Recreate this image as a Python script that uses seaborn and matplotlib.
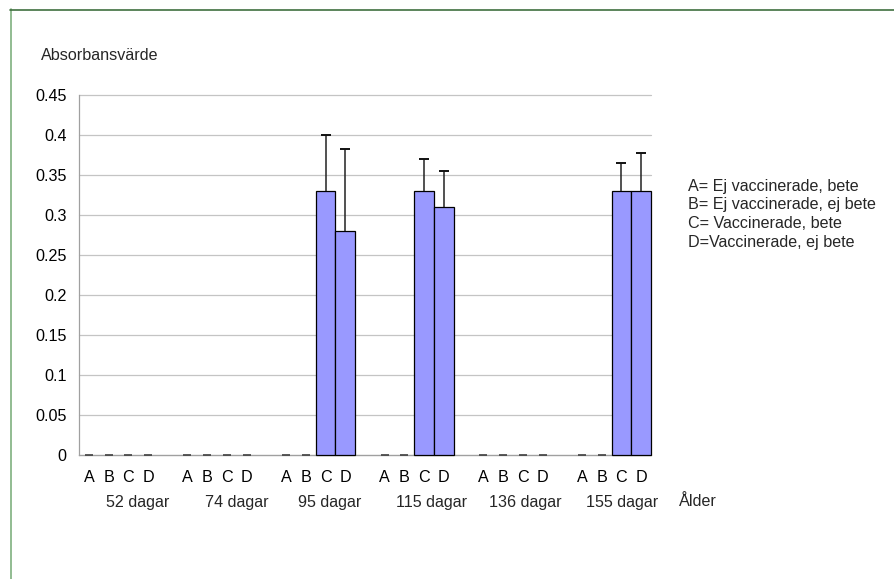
import matplotlib
matplotlib.use("Agg")
import matplotlib.pyplot as plt
import matplotlib.transforms as mtransforms
from matplotlib.lines import Line2D
import numpy as np
import pandas as pd
import seaborn as sns

# ---- data ----
groups = ["52 dagar", "74 dagar", "95 dagar", "115 dagar", "136 dagar", "155 dagar"]
letters = ["A", "B", "C", "D"]
values_52 = [0, 0, 0, 0]
values_74 = [0, 0, 0, 0]
values_95 = [0, 0, 0.33, 0.28]
values_115 = [0, 0, 0.33, 0.31]
values_136 = [0, 0, 0, 0]
values_155 = [0, 0, 0.33, 0.33]
err_52 = [0, 0, 0, 0]
err_74 = [0, 0, 0, 0]
err_95 = [0, 0, 0.07, 0.103]
err_115 = [0, 0, 0.04, 0.045]
err_136 = [0, 0, 0, 0]
err_155 = [0, 0, 0.035, 0.047]
y_ticks = [0, 0.05, 0.1, 0.15, 0.2, 0.25, 0.3, 0.35, 0.4, 0.45]
y_ticklabels = ["0", "0.05", "0.1", "0.15", "0.2", "0.25", "0.3", "0.35", "0.4", "0.45"]
y_title = "Absorbansvärde"
x_title = "Ålder"
legend_lines = ["A= Ej vaccinerade, bete", "B= Ej vaccinerade, ej bete",
                "C= Vaccinerade, bete", "D=Vaccinerade, ej bete"]

all_values = [values_52, values_74, values_95, values_115, values_136, values_155]
all_errs = [err_52, err_74, err_95, err_115, err_136, err_155]

# build slot order (4 letters + a blank gap slot per group, no gap after last)
rows = []
order = []
for gi, g in enumerate(groups):
    for li, l in enumerate(letters):
        key = f"{g}|{l}"
        order.append(key)
        rows.append({"slot": key, "group": g, "letter": l,
                     "value": all_values[gi][li], "err": all_errs[gi][li]})
    if gi < len(groups) - 1:
        order.append(f"gap{gi}")
df = pd.DataFrame(rows)
df["pos"] = df["slot"].map({k: i for i, k in enumerate(order)})

# ---- figure ----
sns.set_style("white")
plt.rcParams["font.family"] = ["Liberation Sans", "DejaVu Sans"]
FS = 11.6
W, H = 894, 579
fig = plt.figure(figsize=(W / 100, H / 100), dpi=100)
ax_left, ax_right, ax_top, ax_bot = 79, 651, 95, 455
ax = fig.add_axes([ax_left / W, 1 - ax_bot / H, (ax_right - ax_left) / W, (ax_bot - ax_top) / H])

sns.barplot(data=df, x="slot", y="value", order=order, width=1.0,
            color="#9999FF", saturation=1, edgecolor="black", linewidth=0.9,
            errorbar=None, ax=ax, zorder=3)
for p in ax.patches:
    p.set_clip_on(False)
    if p.get_height() == 0:
        p.set_linewidth(0)

# error bars (upward only, cap at the top)
nz = df[df["err"] > 0]
ax.errorbar(nz["pos"], nz["value"], yerr=[np.zeros(len(nz)), nz["err"]],
            fmt="none", ecolor="#222222", elinewidth=1.1, capsize=0, zorder=4)
ax.plot(nz["pos"], nz["value"] + nz["err"], linestyle="none", marker="_",
        markersize=6.5, markeredgewidth=1.4, color="#111111", zorder=5, clip_on=False)

# zero-value dashes
zr = df[df["value"] == 0]
ax.plot(zr["pos"], zr["value"], linestyle="none", marker="_", markersize=6,
        markeredgewidth=1.2, color="#404040", zorder=4, clip_on=False)

ax.set_xlim(-0.5, len(order) - 0.5)
ax.set_ylim(0, 0.45)
ax.set_yticks(y_ticks)
ax.set_yticklabels(y_ticklabels, fontsize=FS)
ax.yaxis.grid(True, color="#c4c4c4", linewidth=0.9, zorder=0)
ax.set_axisbelow(True)
for gl in ax.yaxis.get_gridlines():
    gl.set_clip_on(False)

# x ticks: labels at slot centers, tick marks at slot edges
ax.set_xticks(df["pos"].tolist())
ax.set_xticklabels(df["letter"].tolist(), fontsize=FS)
ax.set_xticks(np.arange(-0.5, len(order), 1.0), minor=True)
ax.tick_params(axis="x", which="major", length=0, pad=11)
ax.tick_params(axis="x", which="minor", length=4, width=0.8, color="#a0a0a0", direction="out")
ax.tick_params(axis="y", which="major", length=4, width=0.8, color="#a0a0a0", pad=5, direction="out")
ax.tick_params(axis="both", labelcolor="black")
ax.set_xlabel("")
ax.set_ylabel("")
for s in ["top", "right"]:
    ax.spines[s].set_visible(False)
for s in ["left", "bottom"]:
    ax.spines[s].set_color("#a0a0a0")
    ax.spines[s].set_linewidth(0.9)

# group labels (second category row)
group_label_offsets = [2.49, 2.49, 2.23, 2.4, 2.14, 2.04]
trans = mtransforms.blended_transform_factory(ax.transData, fig.transFigure)
for gi, g in enumerate(groups):
    x = gi * 5 + group_label_offsets[gi]
    ax.text(x, 1 - 502 / H, g, transform=trans, ha="center", va="center", fontsize=FS)
fig.text(679 / W, 1 - 502 / H, x_title, ha="left", va="center", fontsize=FS)

# axis title
fig.text(41 / W, 1 - 55 / H, y_title, ha="left", va="center", fontsize=FS)

# legend text block
for i, t in enumerate(legend_lines):
    fig.text(688 / W, 1 - (186 + 19 * i) / H, t, ha="left", va="center", fontsize=FS)

# outer frame (green)
fig.add_artist(Line2D([10.5 / W, 10.5 / W], [1 - 9 / H, 0], transform=fig.transFigure,
                      color="#7fb07f", linewidth=1.2))
fig.add_artist(Line2D([10 / W, 1], [1 - 9.5 / H, 1 - 9.5 / H], transform=fig.transFigure,
                      color="#3f6f3f", linewidth=1.2))

fig.savefig("out.png", dpi=100)
